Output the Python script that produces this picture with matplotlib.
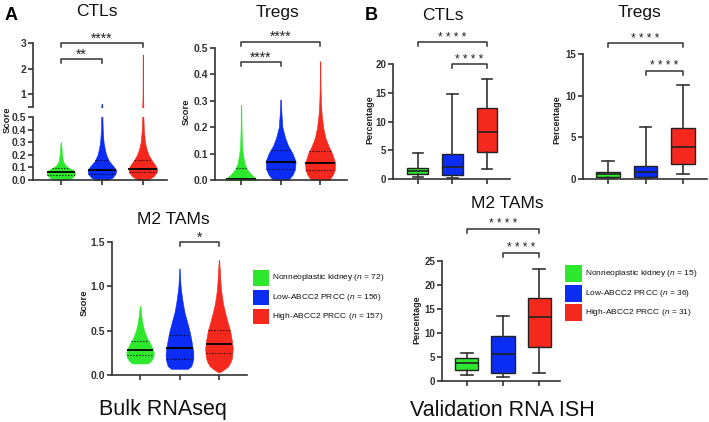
import numpy as np
import matplotlib
matplotlib.use('Agg')
import matplotlib.pyplot as plt
from matplotlib.patches import Rectangle

plt.rcParams['font.family'] = ['Liberation Sans', 'DejaVu Sans']
plt.rcParams['mathtext.fontset'] = 'custom'
plt.rcParams['mathtext.rm'] = 'Liberation Sans'
plt.rcParams['mathtext.it'] = 'Liberation Sans:italic'

# ---------------- data ----------------
groups = ['Nonneoplastic kidney', 'Low-ABCC2 PRCC', 'High-ABCC2 PRCC']
n_bulk = [72, 156, 157]
n_ish = [15, 36, 31]
colors = ['#2ee82e', '#0b2cf2', '#f5281e']

# Violin profiles (score level, relative density)
ctls_a_y = [[0.0, 0.02, 0.04, 0.06, 0.08, 0.10, 0.12, 0.15, 0.20, 0.25, 0.30],
            [0.0, 0.02, 0.05, 0.08, 0.11, 0.15, 0.2, 0.25, 0.3, 0.4, 0.5, 0.63],
            [0.0, 0.03, 0.06, 0.09, 0.12, 0.16, 0.2, 0.25, 0.3, 0.4, 0.5, 1.0, 2.0, 2.55]]
ctls_a_w = [[0.5, 0.8, 0.95, 1.0, 0.85, 0.5, 0.3, 0.15, 0.08, 0.05, 0.02],
            [0.4, 0.75, 0.95, 1.0, 0.8, 0.5, 0.3, 0.2, 0.12, 0.06, 0.04, 0.02],
            [0.35, 0.75, 0.95, 1.0, 0.85, 0.6, 0.4, 0.25, 0.15, 0.07, 0.04, 0.02, 0.015, 0.01]]
ctls_a_med = [0.063, 0.082, 0.09]
ctls_a_q1 = [0.042, 0.05, 0.065]
ctls_a_q3 = [0.095, 0.156, 0.16]

tregs_a_y = [[0.0, 0.005, 0.02, 0.04, 0.06, 0.08, 0.1, 0.12, 0.15, 0.2, 0.285],
             [0.0, 0.02, 0.04, 0.07, 0.1, 0.13, 0.16, 0.2, 0.25, 0.305],
             [0.0, 0.02, 0.04, 0.065, 0.1, 0.13, 0.16, 0.2, 0.25, 0.3, 0.35, 0.45]]
tregs_a_w = [[0.9, 1.0, 0.7, 0.4, 0.25, 0.18, 0.12, 0.08, 0.05, 0.03, 0.02],
             [0.5, 0.8, 0.95, 1.0, 0.8, 0.5, 0.3, 0.12, 0.06, 0.02],
             [0.6, 0.85, 0.98, 1.0, 0.8, 0.55, 0.35, 0.2, 0.1, 0.05, 0.03, 0.01]]
tregs_a_med = [0.005, 0.068, 0.065]
tregs_a_q1 = [0.001, 0.04, 0.038]
tregs_a_q3 = [0.045, 0.115, 0.11]

m2_a_y = [[0.13, 0.16, 0.2, 0.25, 0.3, 0.35, 0.4, 0.5, 0.6, 0.7, 0.78],
          [0.07, 0.1, 0.15, 0.2, 0.25, 0.3, 0.4, 0.5, 0.6, 0.7, 0.8, 0.9, 1.0, 1.2],
          [0.03, 0.06, 0.1, 0.15, 0.2, 0.3, 0.4, 0.5, 0.6, 0.7, 0.8, 0.9, 1.0, 1.1, 1.3]]
m2_a_w = [[0.55, 0.8, 0.95, 1.0, 0.9, 0.75, 0.55, 0.3, 0.15, 0.07, 0.02],
          [0.6, 0.85, 0.95, 1.0, 1.0, 0.95, 0.85, 0.72, 0.55, 0.37, 0.25, 0.16, 0.08, 0.015],
          [0.05, 0.35, 0.67, 0.85, 0.95, 1.0, 0.92, 0.8, 0.62, 0.45, 0.3, 0.2, 0.13, 0.09, 0.015]]
m2_a_med = [0.285, 0.30, 0.35]
m2_a_q1 = [0.22, 0.18, 0.25]
m2_a_q3 = [0.38, 0.45, 0.51]

# Box plot five-number summaries [low whisker, Q1, median, Q3, high whisker]
ctls_b = [[0.3, 0.9, 1.4, 1.9, 4.6],
          [0.2, 0.7, 2.1, 4.4, 14.8],
          [1.8, 4.7, 8.1, 12.3, 17.4]]
tregs_b = [[0.0, 0.3, 0.6, 0.9, 2.2],
           [0.0, 0.25, 0.9, 1.6, 6.2],
           [0.6, 1.8, 3.9, 6.1, 11.3]]
m2_b = [[1.2, 2.3, 3.7, 4.8, 5.8],
        [0.9, 1.7, 5.6, 9.3, 13.5],
        [1.6, 7.0, 13.3, 17.2, 23.4]]

# ---------------- figure ----------------
W, H = 709, 422
fig = plt.figure(figsize=(W / 100, H / 100), dpi=100)
AX_C = '#333333'


def box(l, t, r, b):
    return [l / W, 1 - b / H, (r - l) / W, (b - t) / H]


def style(ax, xlim, bottom=True, fs=7.5):
    for s in ['top', 'right']:
        ax.spines[s].set_visible(False)
    ax.spines['left'].set_linewidth(1.2)
    ax.spines['left'].set_color(AX_C)
    ax.spines['bottom'].set_linewidth(1.2)
    ax.spines['bottom'].set_color(AX_C)
    ax.tick_params(axis='both', direction='out', length=3.5, width=1.2,
                   color=AX_C, labelsize=fs, pad=1.5, labelcolor='#333333')
    ax.set_xticks([0, 1, 2])
    ax.set_xticklabels([])
    if not bottom:
        ax.spines['bottom'].set_visible(False)
        ax.tick_params(axis='x', bottom=False)
    ax.set_xlim(*xlim)
    ax.patch.set_alpha(0)


def bold_ticks(ax):
    for lab in ax.get_yticklabels():
        lab.set_fontweight('bold')


def violins(ax, ys, ws, meds, q1s, q3s, width):
    for i in range(3):
        y = np.asarray(ys[i], float)
        w = np.asarray(ws[i], float)
        st = dict(coords=y, vals=w, mean=meds[i], median=meds[i], min=y[0], max=y[-1])
        parts = ax.violin([st], positions=[i], widths=width, showmeans=False,
                          showextrema=False, showmedians=False)
        for b in parts['bodies']:
            b.set_facecolor(colors[i])
            b.set_edgecolor(colors[i])
            b.set_linewidth(0.4)
            b.set_alpha(1)
        for val, ls, lw in [(meds[i], '-', 1.3), (q1s[i], ':', 0.8), (q3s[i], ':', 0.8)]:
            hw = np.interp(val, y, w) / w.max() * width / 2
            ax.plot([i - hw, i + hw], [val, val], color='black', ls=ls, lw=lw,
                    solid_capstyle='butt')


def boxes(ax, stats, width):
    bx = []
    for s in stats:
        bx.append(dict(whislo=s[0], q1=s[1], med=s[2], q3=s[3], whishi=s[4], fliers=[]))
    art = ax.bxp(bx, positions=[0, 1, 2], widths=width, patch_artist=True,
                 showfliers=False,
                 boxprops=dict(linewidth=1.0, edgecolor='#222222'),
                 whiskerprops=dict(linewidth=1.2, color='#333333'),
                 capprops=dict(linewidth=1.2, color='#333333'),
                 medianprops=dict(linewidth=1.2, color='#222222'))
    for p, c in zip(art['boxes'], colors):
        p.set_facecolor(c)


def bracket(ax, x1, x2, y, text, fs=10, off=0.5, drop_px=4):
    bb = ax.get_position()
    h_px = bb.height * H
    y0, y1 = ax.get_ylim()
    d = drop_px * (y1 - y0) / h_px
    ax.plot([x1, x1, x2, x2], [y - d, y, y, y - d], color=AX_C, lw=1.1, clip_on=False)
    ax.annotate(text, xy=((x1 + x2) / 2, y), xytext=(0, off), textcoords='offset points',
                ha='center', va='baseline', fontsize=fs, annotation_clip=False,
                color='#222222')


def ftext(x, y, s, **kw):
    fig.text(x / W, 1 - y / H, s, **kw)


# ---- A: CTLs (broken axis) ----
ax_lo = fig.add_axes(box(33, 117, 167, 180))
ax_hi = fig.add_axes(box(33, 43, 167, 107))
xl = (-0.68, 2.59)
for ax in (ax_lo, ax_hi):
    violins(ax, ctls_a_y, ctls_a_w, ctls_a_med, ctls_a_q1, ctls_a_q3, 0.7)
style(ax_lo, xl)
style(ax_hi, xl, bottom=False)
ax_lo.set_ylim(0, 0.5)
ax_lo.set_yticks([0, 0.1, 0.2, 0.3, 0.4, 0.5])
ax_lo.set_yticklabels(['0.0', '0.1', '0.2', '0.3', '0.4', '0.5'])
ax_hi.set_ylim(0.5, 3)
ax_hi.set_yticks([0.5, 1, 2, 3])
ax_hi.set_yticklabels(['', '1', '2', '3'])
bold_ticks(ax_lo)
bold_ticks(ax_hi)
bracket(ax_hi, 0, 2, 3.0, '****')
bracket(ax_hi, 0, 1, 2.37, '**')

# ---- A: Tregs ----
ax = fig.add_axes(box(215, 48, 347, 180))
violins(ax, tregs_a_y, tregs_a_w, tregs_a_med, tregs_a_q1, tregs_a_q3, 0.76)
style(ax, (-0.66, 2.68))
ax.set_ylim(0, 0.5)
ax.set_yticks([0, 0.1, 0.2, 0.3, 0.4, 0.5])
ax.set_yticklabels(['0.0', '0.1', '0.2', '0.3', '0.4', '0.5'])
bold_ticks(ax)
bracket(ax, 0, 2, 0.523, '****')
bracket(ax, 0, 1, 0.447, '****')

# ---- A: M2 TAMs ----
ax = fig.add_axes(box(112, 242, 247, 375))
violins(ax, m2_a_y, m2_a_w, m2_a_med, m2_a_q1, m2_a_q3, 0.7)
style(ax, (-0.71, 2.71))
ax.set_ylim(0, 1.5)
ax.set_yticks([0, 0.5, 1.0, 1.5])
ax.set_yticklabels(['0.0', '0.5', '1.0', '1.5'])
bold_ticks(ax)
bracket(ax, 1, 2, 1.5, '*')

# ---- B: CTLs ----
ax = fig.add_axes(box(393, 64, 510, 179))
boxes(ax, ctls_b, 0.6)
style(ax, (-0.72, 2.67), fs=7)
ax.set_ylim(0, 20)
ax.set_yticks([0, 5, 10, 15, 20])
bold_ticks(ax)
bracket(ax, 0, 2, 23.8, '* * * *', fs=8.5, off=1)
bracket(ax, 1, 2, 20.0, '* * * *', fs=8.5, off=1)

# ---- B: Tregs ----
ax = fig.add_axes(box(583, 54, 707, 179))
boxes(ax, tregs_b, 0.62)
style(ax, (-0.67, 2.64), fs=7)
ax.set_ylim(0, 15)
ax.set_yticks([0, 5, 10, 15])
bold_ticks(ax)
bracket(ax, 0, 2, 16.3, '* * * *', fs=8.5, off=1)
bracket(ax, 1, 2, 13.0, '* * * *', fs=8.5, off=1)

# ---- B: M2 TAMs ----
ax = fig.add_axes(box(442, 261, 560, 381))
boxes(ax, m2_b, 0.64)
style(ax, (-0.69, 2.58), fs=7)
ax.set_ylim(0, 25)
ax.set_yticks([0, 5, 10, 15, 20, 25])
bold_ticks(ax)
bracket(ax, 0, 2, 31.7, '* * * *', fs=8.5, off=1)
bracket(ax, 1, 2, 26.7, '* * * *', fs=8.5, off=1)

# ---- titles, labels ----
tkw = dict(ha='center', va='center', fontsize=12.5, color='#111111')
ftext(97, 12, 'CTLs', **tkw)
ftext(277, 12, 'Tregs', **tkw)
ftext(173, 219, 'M2 TAMs', **tkw)
ftext(443, 16, 'CTLs', **tkw)
ftext(640, 12, 'Tregs', **tkw)
ftext(507, 203, 'M2 TAMs', **tkw)
ftext(11, 15, 'A', ha='center', va='center', fontsize=13, fontweight='bold')
ftext(371, 16, 'B', ha='center', va='center', fontsize=13, fontweight='bold')

ykw = dict(ha='center', va='center', rotation=90, fontsize=6.8, fontweight='bold',
           color='#222222')
ftext(7, 120, 'Score', **ykw)
ftext(186, 112, 'Score', **ykw)
ftext(84, 303, 'Score', **ykw)
pkw = dict(ykw, fontsize=6.5)
ftext(370, 120, 'Percentage', **pkw)
ftext(557, 120, 'Percentage', **pkw)
ftext(417, 320, 'Percentage', **pkw)

ftext(163, 410, 'Bulk RNAseq', ha='center', va='center', fontsize=15.5, color='#111111')
ftext(502, 410, 'Validation RNA ISH', ha='center', va='center', fontsize=15.5,
      color='#111111')

# ---- legends ----
def legend(x_box, x_txt, tops, size, ns):
    for i in range(3):
        r = Rectangle((x_box / W, 1 - (tops[i] + size[1]) / H), size[0] / W, size[1] / H,
                      transform=fig.transFigure, facecolor=colors[i], edgecolor='none')
        fig.add_artist(r)
        ftext(x_txt, tops[i] + size[1] / 2, groups[i] + r' ($\mathit{n}$ = %d)' % ns[i],
              ha='left', va='center', fontsize=6, color='#111111')


legend(253, 272, [270, 289.5, 308.5], (16, 15.5), n_bulk)
legend(565, 585, [265, 285, 304], (17, 17), n_ish)

fig.savefig('out.png', dpi=100)
